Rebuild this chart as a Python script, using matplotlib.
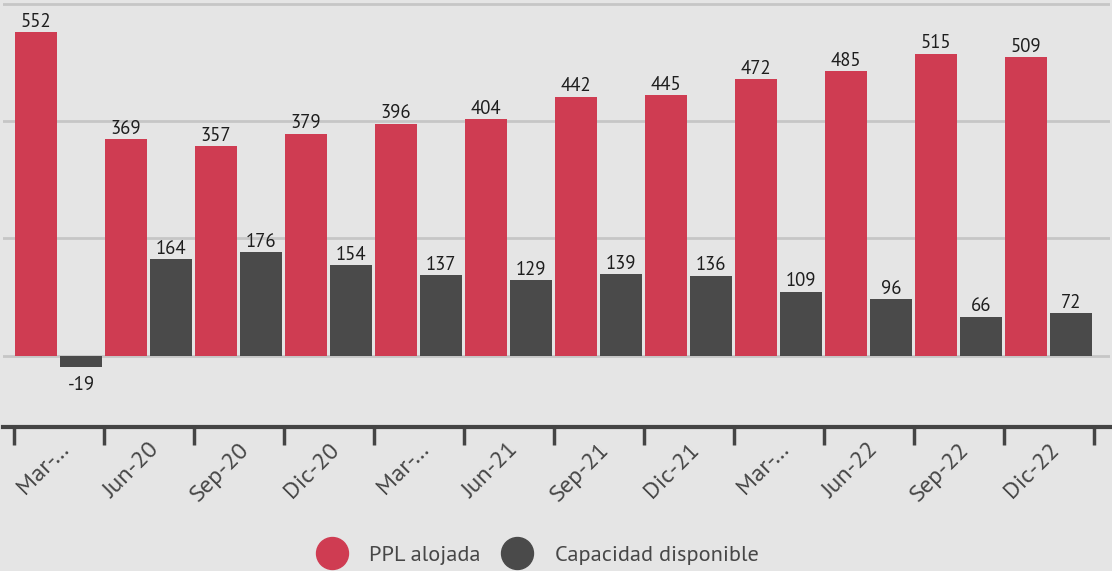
import matplotlib
matplotlib.use("Agg")
import matplotlib.pyplot as plt
import matplotlib.transforms as mtrans
import numpy as np
from matplotlib.lines import Line2D

categories = ["Mar-…", "Jun-20", "Sep-20", "Dic-20", "Mar-…", "Jun-21",
              "Sep-21", "Dic-21", "Mar-…", "Jun-22", "Sep-22", "Dic-22"]
ppl_alojada = [552, 369, 357, 379, 396, 404, 442, 445, 472, 485, 515, 509]
capacidad = [-19, 164, 176, 154, 137, 129, 139, 136, 109, 96, 66, 72]

RED = "#cf3c52"
DARK = "#4a4a4a"
BG = "#e5e5e5"

plt.rcParams['font.family'] = ['PT Sans', 'DejaVu Sans']

W, H = 1112, 571
fig = plt.figure(figsize=(W / 100, H / 100), dpi=100)
fig.patch.set_facecolor(BG)
ax = fig.add_axes([3 / W, 1 - 427 / H, (1110 - 3) / W, 427 / H])
ax.set_facecolor(BG)

x = np.arange(len(categories))
bw = 42 / 90
off_r = -23 / 90
off_g = 22 / 90
b1 = ax.bar(x + off_r, ppl_alojada, width=bw, color=RED, zorder=3)
b2 = ax.bar(x + off_g, capacidad, width=bw, color=DARK, zorder=3)

ax.set_ylim(-122, 607)
ax.set_xlim(-0.622, 11.678)

for yv in [0, 200, 400, 600]:
    ax.axhline(yv, color="#c6c6c6", lw=2, zorder=1)

for bars, vals in [(b1, ppl_alojada), (b2, capacidad)]:
    for rect, v in zip(bars, vals):
        cx = rect.get_x() + rect.get_width() / 2
        if v >= 0:
            ax.annotate(str(v), (cx, v), xytext=(0, 1), textcoords="offset points",
                        ha="center", va="bottom", fontsize=13.5, color="#1e1e1e", zorder=4)
        else:
            ax.annotate(str(v), (cx, v), xytext=(0, -7), textcoords="offset points",
                        ha="center", va="top", fontsize=13.5, color="#1e1e1e", zorder=4)

for s in ["top", "right", "left"]:
    ax.spines[s].set_visible(False)
ax.spines["bottom"].set_color("#444444")
ax.spines["bottom"].set_linewidth(3)
ax.set_yticks([])

ax.set_xticks(np.arange(len(categories) + 1) - 0.5, minor=False)
ax.set_xticklabels([])
ax.tick_params(axis="x", which="major", length=13, width=2.5, color="#444444")
ax.set_xticks(x, minor=True)
ax.set_xticklabels(categories, minor=True, rotation=45, ha="right", va="center",
                   rotation_mode="anchor", fontsize=17.5, color="#474747")
ax.tick_params(axis="x", which="minor", length=0, pad=14)
shift = mtrans.ScaledTranslation(7 / 100, 0, fig.dpi_scale_trans)
for lbl in ax.get_xticklabels(minor=True):
    lbl.set_transform(lbl.get_transform() + shift)

handles = [Line2D([0], [0], marker="o", color="none", markerfacecolor=RED, markeredgecolor=RED, markersize=23),
           Line2D([0], [0], marker="o", color="none", markerfacecolor=DARK, markeredgecolor=DARK, markersize=23)]
fig.legend(handles, ["PPL alojada", "Capacidad disponible"], loc="center",
           bbox_to_anchor=(537 / W, 1 - 555 / H), ncol=2, frameon=False,
           fontsize=16, labelcolor="#474747", handletextpad=0.92, columnspacing=0.9,
           handlelength=1.5)

fig.savefig("out.png", dpi=100, facecolor=BG)
